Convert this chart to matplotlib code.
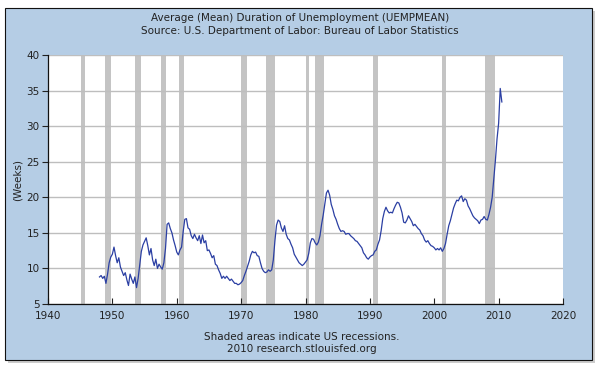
import numpy as np
import matplotlib
matplotlib.use("Agg")
import matplotlib.pyplot as plt
from matplotlib.patches import Rectangle

# Quarterly values (weeks), 1948 Q1 .. 2010 Q3
start_year = 1948
values = [
    8.8, 9.0, 8.6, 8.9,      # 1948
    7.9, 9.2, 10.8, 11.6,    # 1949
    12.0, 13.0, 11.8, 10.8,  # 1950
    11.5, 10.2, 9.6, 9.0,    # 1951
    9.4, 8.4, 7.6, 9.2,      # 1952
    8.5, 7.9, 8.8, 7.3,      # 1953
    8.6, 10.5, 12.4, 13.3,   # 1954
    13.8, 14.3, 13.2, 11.9,  # 1955
    12.8, 11.2, 10.4, 11.3,  # 1956
    10.0, 10.6, 10.2, 9.9,   # 1957
    10.8, 12.8, 16.2, 16.4,  # 1958
    15.6, 15.0, 14.0, 13.2,  # 1959
    12.3, 11.9, 12.6, 13.0,  # 1960
    15.2, 16.9, 17.0, 15.7,  # 1961
    15.5, 14.6, 14.2, 14.8,  # 1962
    14.3, 13.9, 14.6, 13.5,  # 1963
    14.7, 13.6, 13.9, 12.5,  # 1964
    12.6, 12.1, 11.5, 11.8,  # 1965
    10.6, 10.4, 9.8, 9.3,    # 1966
    8.6, 8.9, 8.6, 8.9,      # 1967
    8.6, 8.3, 8.5, 8.2,      # 1968
    7.9, 7.9, 7.7, 7.8,      # 1969
    8.0, 8.3, 9.0, 9.6,      # 1970
    10.3, 11.0, 11.9, 12.4,  # 1971
    12.2, 12.3, 11.8, 11.7,  # 1972
    10.8, 10.0, 9.6, 9.4,    # 1973
    9.5, 9.8, 9.6, 9.8,      # 1974
    11.2, 13.9, 16.1, 16.8,  # 1975
    16.6, 15.7, 15.2, 16.0,  # 1976
    14.8, 14.2, 14.0, 13.4,  # 1977
    12.9, 12.0, 11.6, 11.2,  # 1978
    10.8, 10.6, 10.4, 10.6,  # 1979
    10.9, 11.2, 12.1, 13.6,  # 1980
    14.2, 14.1, 13.6, 13.3,  # 1981
    13.7, 14.6, 16.2, 17.5,  # 1982
    19.0, 20.6, 21.0, 20.3,  # 1983
    19.0, 18.3, 17.4, 16.9,  # 1984
    16.2, 15.6, 15.2, 15.3,  # 1985
    15.2, 14.8, 14.9, 14.9,  # 1986
    14.6, 14.4, 14.2, 13.9,  # 1987
    13.8, 13.5, 13.2, 12.9,  # 1988
    12.2, 11.9, 11.5, 11.3,  # 1989
    11.6, 11.8, 11.9, 12.4,  # 1990
    12.6, 13.4, 14.0, 15.3,  # 1991
    17.0, 18.0, 18.6, 18.1,  # 1992
    17.8, 17.9, 17.8, 18.4,  # 1993
    18.9, 19.3, 19.2, 18.6,  # 1994
    17.8, 16.5, 16.4, 16.8,  # 1995
    17.4, 17.0, 16.6, 16.0,  # 1996
    16.2, 15.9, 15.6, 15.4,  # 1997
    14.9, 14.6, 14.0, 13.7,  # 1998
    13.9, 13.5, 13.2, 13.1,  # 1999
    12.9, 12.6, 12.8, 12.6,  # 2000
    12.9, 12.4, 12.8, 13.5,  # 2001
    14.8, 16.0, 16.7, 17.6,  # 2002
    18.5, 19.1, 19.6, 19.5,  # 2003
    20.0, 20.2, 19.4, 19.8,  # 2004
    19.6, 18.8, 18.4, 17.9,  # 2005
    17.4, 17.1, 16.9, 16.7,  # 2006
    16.3, 16.8, 16.9, 17.3,  # 2007
    16.9, 16.8, 17.6, 18.6,  # 2008
    20.0, 22.6, 25.2, 28.2,  # 2009
    30.4, 35.3, 33.4,        # 2010
]

recessions = [
    (1945.10, 1945.80), (1948.85, 1949.80), (1953.50, 1954.40),
    (1957.60, 1958.30), (1960.30, 1961.10), (1969.95, 1970.90),
    (1973.85, 1975.20), (1980.00, 1980.55), (1981.50, 1982.90),
    (1990.50, 1991.20), (2001.20, 2001.90), (2007.90, 2009.50),
]

title_lines = ["Average (Mean) Duration of Unemployment (UEMPMEAN)",
               "Source: U.S. Department of Labor: Bureau of Labor Statistics"]
footer_lines = ["Shaded areas indicate US recessions.",
                "2010 research.stlouisfed.org"]
x_ticks = list(range(1940, 2021, 10))
y_ticks = list(range(5, 41, 5))

years = start_year + np.arange(len(values)) / 4.0

W, H = 600, 375
fig = plt.figure(figsize=(6, 3.75), dpi=100, facecolor="white")

# shadow + blue panel
fig.patches.append(Rectangle((8 / W, (H - 363) / H), 587 / W, 352 / H,
                             transform=fig.transFigure, facecolor="#9a9a9a",
                             edgecolor="none", alpha=0.5, zorder=0))
fig.patches.append(Rectangle((5 / W, (H - 360) / H), 587 / W, 352 / H,
                             transform=fig.transFigure, facecolor="#b5cde5",
                             edgecolor="#111111", linewidth=0.8, zorder=1))

ax = fig.add_axes([48 / W, (H - 304) / H, (563 - 48) / W, (304 - 55) / H])
ax.set_facecolor("white")
ax.set_zorder(2)

for a, b in recessions:
    ax.axvspan(a, b, color="#c4c4c4", linewidth=0, zorder=1)

for yv in y_ticks:
    ax.axhline(yv, color="#bebebe", linewidth=1.0, zorder=2)

ax.plot(years, values, color="#2b3fa3", linewidth=0.9, zorder=3)

ax.set_xlim(1940, 2020)
ax.set_ylim(5, 40)
ax.set_xticks(x_ticks)
ax.set_yticks(y_ticks)
ax.tick_params(axis="x", direction="in", length=4, width=0.8, labelsize=7.5,
               colors="#222222", pad=5)
ax.tick_params(axis="y", direction="out", length=4, width=0.8, labelsize=7.5,
               colors="#222222", pad=2)
for s in ["top", "right"]:
    ax.spines[s].set_visible(False)
for s in ["left", "bottom"]:
    ax.spines[s].set_color("#111111")
    ax.spines[s].set_linewidth(0.9)

fig.text(18 / W, (H - 180) / H, "(Weeks)", rotation=90, ha="center",
         va="center", fontsize=7.5, color="#222222")

fig.text(300 / W, (H - 17.7) / H, title_lines[0], ha="center", va="center",
         fontsize=7.5, color="#222222")
fig.text(300 / W, (H - 30.5) / H, title_lines[1], ha="center", va="center",
         fontsize=7.5, color="#222222")
fig.text(302 / W, (H - 337.5) / H, footer_lines[0], ha="center", va="center",
         fontsize=7.5, color="#222222")
fig.text(302 / W, (H - 349.5) / H, footer_lines[1], ha="center", va="center",
         fontsize=7.5, color="#222222")

fig.savefig("out.png", dpi=100, facecolor="white")
